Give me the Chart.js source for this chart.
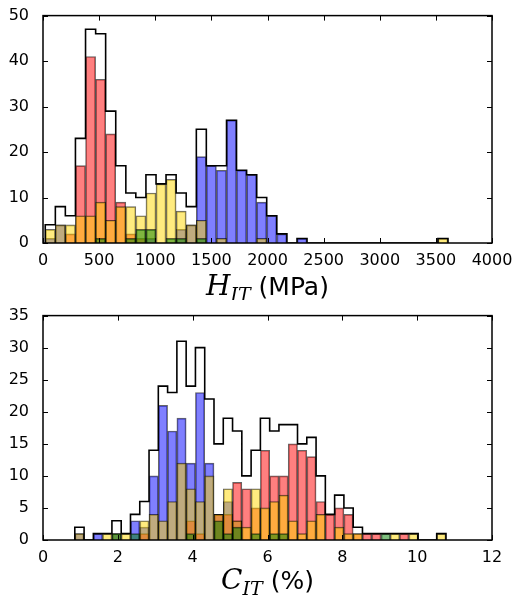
<!DOCTYPE html>
<html lang="en">
<head>
<meta charset="UTF-8">
<title>H_IT / C_IT histograms</title>
<script src="https://cdn.jsdelivr.net/npm/chart.js"></script>
<style>
  html, body { margin: 0; padding: 0; background: #fff; }
  canvas { display: block; }
</style>
</head>
<body>
<canvas id="chartH" width="522" height="300"></canvas>
<canvas id="chartC" width="522" height="299"></canvas>
<script>
// --- H_IT (MPa): 40 bins ---
const hitEdges = [20, 110, 199, 289, 379, 469, 558, 648, 738, 827, 917, 1007, 1096, 1186, 1276, 1366,
  1455, 1545, 1635, 1724, 1814, 1904, 1993, 2083, 2173, 2263, 2352, 2442, 2532, 2621, 2711, 2801,
  2890, 2980, 3070, 3160, 3249, 3339, 3429, 3518, 3608];
const hitRed    = [0, 0, 2, 17, 41, 36, 24, 9, 2, 1,  0, 0, 0, 0, 0, 0, 0, 0, 0, 0,  0, 0, 0, 0, 0, 0, 0, 0, 0, 0,  0, 0, 0, 0, 0, 0, 0, 0, 0, 0];
const hitBlue   = [1, 4, 0, 0, 0, 0, 0, 0, 0, 0,  1, 0, 0, 3, 4, 19, 17, 16, 27, 16,  15, 9, 6, 2, 0, 1, 0, 0, 0, 0,  0, 0, 0, 0, 0, 0, 0, 0, 0, 0];
const hitYellow = [3, 4, 4, 6, 6, 9, 5, 8, 8, 6,  11, 13, 14, 7, 4, 5, 0, 1, 0, 0,  0, 1, 0, 0, 0, 0, 0, 0, 0, 0,  0, 0, 0, 0, 0, 0, 0, 0, 0, 1];
const hitGreen  = [0, 0, 0, 0, 0, 1, 0, 0, 1, 3,  3, 0, 1, 1, 0, 1, 0, 0, 0, 0,  0, 0, 0, 0, 0, 0, 0, 0, 0, 0,  0, 0, 0, 0, 0, 0, 0, 0, 0, 0];
const hitXTicks = [0, 500, 1000, 1500, 2000, 2500, 3000, 3500, 4000];
const hitYTicks = [0, 10, 20, 30, 40, 50];

// --- C_IT (%): 40 bins ---
const citEdges = [0.85, 1.098, 1.346, 1.594, 1.842, 2.09, 2.338, 2.586, 2.834, 3.082, 3.33, 3.578,
  3.826, 4.074, 4.322, 4.57, 4.818, 5.066, 5.314, 5.562, 5.81, 6.058, 6.306, 6.554, 6.802, 7.05,
  7.298, 7.546, 7.794, 8.042, 8.29, 8.538, 8.786, 9.034, 9.282, 9.53, 9.778, 10.026, 10.274, 10.522, 10.77];
const citRed    = [0, 0, 0, 0, 0, 0, 0, 1, 0, 0,  0, 0, 3, 1, 0, 4, 4, 9, 8, 5,  14, 10, 10, 15, 14, 13, 6, 4, 5, 4,  1, 1, 1, 0, 0, 1, 0, 0, 0, 0];
const citBlue   = [1, 0, 1, 0, 1, 0, 3, 2, 10, 21,  17, 19, 12, 23, 12, 4, 6, 3, 0, 0,  0, 0, 0, 0, 0, 0, 0, 0, 0, 0,  0, 0, 0, 0, 0, 0, 0, 0, 0, 0];
const citYellow = [1, 0, 0, 1, 1, 1, 0, 3, 4, 3,  6, 12, 8, 6, 10, 4, 8, 3, 2, 8,  5, 6, 7, 3, 1, 3, 4, 0, 2, 1,  1, 0, 0, 0, 1, 0, 1, 0, 0, 1];
const citGreen  = [0, 0, 0, 0, 1, 0, 1, 0, 0, 0,  0, 0, 1, 0, 0, 3, 1, 2, 0, 1,  0, 1, 1, 0, 0, 0, 0, 0, 0, 0,  0, 0, 0, 1, 0, 0, 0, 0, 0, 0];
const citXTicks = [0, 2, 4, 6, 8, 10, 12];
const citYTicks = [0, 5, 10, 15, 20, 25, 30, 35];

Chart.defaults.font.family = '"DejaVu Sans", sans-serif';
Chart.defaults.font.size = 16;
Chart.defaults.color = '#000';

function binCenters(edges) {
    return edges.slice(0, -1).map((e, i) => (e + edges[i + 1]) / 2);
}

function barSet(edges, counts, color, order) {
    const c = binCenters(edges);
    return {
        type: 'bar',
        order: order,
        grouped: false,
        data: counts.map((v, i) => ({ x: c[i], y: v })),
        backgroundColor: color,
        borderColor: 'rgba(0,0,0,0.6)',
        borderWidth: 1,
        barPercentage: 1,
        categoryPercentage: 1
    };
}

// black step outline of the summed histogram
function stepOutline(edges, series) {
    const pts = [{ x: edges[0], y: 0 }];
    for (let i = 0; i < edges.length - 1; i++) {
        const total = series.reduce((s, a) => s + a[i], 0);
        pts.push({ x: edges[i], y: total });
    }
    pts.push({ x: edges[edges.length - 1], y: 0 });
    return {
        type: 'line',
        order: 0,
        data: pts,
        stepped: 'before',
        borderColor: '#000',
        borderWidth: 1.6,
        pointRadius: 0,
        fill: false
    };
}

// box frame, inward ticks on all sides, and the math-style axis title
function framePlugin(title) {
    return {
        id: 'frame',
        afterDraw(chart) {
            const { ctx, chartArea: a, scales: { x, y } } = chart;
            const len = 5;
            ctx.save();
            ctx.strokeStyle = '#000';
            ctx.lineWidth = 1;
            ctx.beginPath();
            x.ticks.forEach(t => {
                const px = Math.round(x.getPixelForValue(t.value)) + 0.5;
                ctx.moveTo(px, a.bottom); ctx.lineTo(px, a.bottom - len);
                ctx.moveTo(px, a.top); ctx.lineTo(px, a.top + len);
            });
            y.ticks.forEach(t => {
                const py = Math.round(y.getPixelForValue(t.value)) + 0.5;
                ctx.moveTo(a.left, py); ctx.lineTo(a.left + len, py);
                ctx.moveTo(a.right, py); ctx.lineTo(a.right - len, py);
            });
            ctx.stroke();
            ctx.lineWidth = 1.5;
            ctx.strokeRect(a.left, a.top, a.right - a.left, a.bottom - a.top);

            // title: italic symbol + italic subscript + unit
            ctx.fillStyle = '#000';
            ctx.textBaseline = 'alphabetic';
            ctx.textAlign = 'left';
            const fSym = 'italic 28px "DejaVu Serif", serif';
            const fSub = 'italic 19px "DejaVu Serif", serif';
            const fTxt = '25px "DejaVu Sans", sans-serif';
            ctx.font = fSym; const w1 = ctx.measureText(title.sym).width;
            ctx.font = fSub; const w2 = ctx.measureText(title.sub).width;
            ctx.font = fTxt; const w3 = ctx.measureText(title.rest).width;
            let cx = (a.left + a.right) / 2 - (w1 + w2 + w3) / 2;
            ctx.font = fSym; ctx.fillText(title.sym, cx, title.y); cx += w1;
            ctx.font = fSub; ctx.fillText(title.sub, cx, title.y + 6); cx += w2;
            ctx.font = fTxt; ctx.fillText(title.rest, cx, title.y);
            ctx.restore();
        }
    };
}

function makeChart(id, d) {
    const series = [d.red, d.blue, d.yellow, d.green];
    return new Chart(document.getElementById(id), {
        type: 'bar',
        data: {
            datasets: [
                stepOutline(d.edges, series),
                barSet(d.edges, d.green, 'rgba(0,128,0,0.5)', 1),
                barSet(d.edges, d.yellow, 'rgba(255,215,0,0.5)', 2),
                barSet(d.edges, d.red, 'rgba(255,0,0,0.5)', 3),
                barSet(d.edges, d.blue, 'rgba(0,0,255,0.5)', 4)
            ]
        },
        options: {
            responsive: false,
            animation: false,
            layout: { padding: { top: d.top, right: 30, left: 0, bottom: 0 } },
            plugins: { legend: { display: false }, tooltip: { enabled: false } },
            scales: {
                x: {
                    type: 'linear',
                    min: d.xTicks[0],
                    max: d.xTicks[d.xTicks.length - 1],
                    offset: false,
                    grid: { display: false, offset: false },
                    border: { display: false },
                    afterBuildTicks: s => { s.ticks = d.xTicks.map(v => ({ value: v })); },
                    afterFit: s => { s.height = d.xAxisH; },
                    ticks: { padding: 0, maxRotation: 0, autoSkip: false, callback: v => String(v) }
                },
                y: {
                    min: d.yTicks[0],
                    max: d.yTicks[d.yTicks.length - 1],
                    grid: { display: false },
                    border: { display: false },
                    afterBuildTicks: s => { s.ticks = d.yTicks.map(v => ({ value: v })); },
                    afterFit: s => { s.width = 43; },
                    ticks: { padding: 6, callback: v => String(v) }
                }
            }
        },
        plugins: [framePlugin(d.title)]
    });
}

makeChart('chartH', {
    edges: hitEdges, red: hitRed, blue: hitBlue, yellow: hitYellow, green: hitGreen,
    xTicks: hitXTicks, yTicks: hitYTicks, top: 15, xAxisH: 57,
    title: { sym: 'H', sub: 'IT', rest: ' (MPa)', y: 295 }
});

makeChart('chartC', {
    edges: citEdges, red: citRed, blue: citBlue, yellow: citYellow, green: citGreen,
    xTicks: citXTicks, yTicks: citYTicks, top: 13, xAxisH: 59,
    title: { sym: 'C', sub: 'IT', rest: ' (%)', y: 289 }
});
</script>
</body>
</html>
